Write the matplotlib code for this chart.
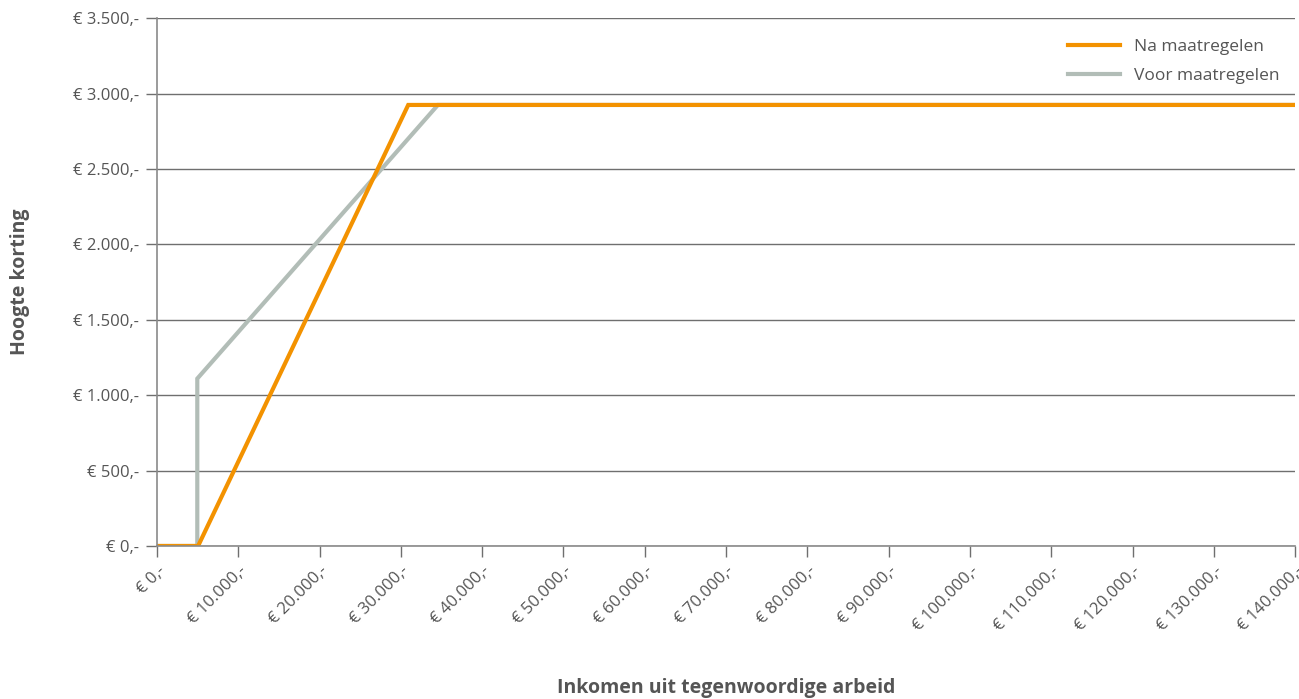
import matplotlib
matplotlib.use("Agg")
import matplotlib.pyplot as plt
from matplotlib.ticker import FuncFormatter

plt.rcParams["font.family"] = ["Open Sans", "DejaVu Sans"]

# inkomen (euro) en hoogte korting (euro)
na_x = [0, 5050, 30900, 140000]
na_y = [0, 0, 2925, 2925]

voor_x = [0, 4950, 4950, 34550, 140000]
voor_y = [0, 0, 1110, 2925, 2925]

x_ticks = list(range(0, 140001, 10000))
y_ticks = list(range(0, 3501, 500))


def euro(v, pos=None):
    s = "{:,.0f}".format(v).replace(",", ".")
    return "€ " + s + ",-"


fig = plt.figure(figsize=(12.99, 6.99), dpi=100)
ax = fig.add_axes([0.1209, 0.2189, 0.8761, 0.755])

ax.plot(voor_x, voor_y, color="#b2bdb7", linewidth=3, label="Voor maatregelen",
        solid_joinstyle="miter")
ax.plot(na_x, na_y, color="#f39200", linewidth=3, label="Na maatregelen",
        solid_joinstyle="miter")

ax.set_xlim(0, 140000)
ax.set_ylim(0, 3500)
ax.set_xticks(x_ticks)
ax.set_yticks(y_ticks)
ax.xaxis.set_major_formatter(FuncFormatter(euro))
ax.yaxis.set_major_formatter(FuncFormatter(euro))

ax.grid(axis="y", color="#6f6f6f", linewidth=1)
ax.set_axisbelow(True)
for s in ["top", "right"]:
    ax.spines[s].set_visible(False)
for s in ["left", "bottom"]:
    ax.spines[s].set_color("#8a8a8a")
    ax.spines[s].set_linewidth(1.2)

ax.tick_params(axis="both", colors="#6f6f6f", labelcolor="#555555",
               labelsize=12, length=8, width=1)
ax.tick_params(axis="y", pad=5)
ax.tick_params(axis="x", pad=4)
for lbl in ax.get_xticklabels():
    lbl.set_rotation(45)
    lbl.set_ha("right")
    lbl.set_rotation_mode("anchor")

ax.set_xlabel("Inkomen uit tegenwoordige arbeid", fontsize=14, fontweight="bold",
              color="#555555")
ax.xaxis.set_label_coords(0.5, -0.27)
ax.xaxis.label.set_va("center")
ax.set_ylabel("Hoogte korting", fontsize=14, fontweight="bold",
              color="#555555")
ax.yaxis.set_label_coords(-0.12, 0.5)
ax.yaxis.label.set_va("center")

handles, labels = ax.get_legend_handles_labels()
leg = ax.legend(handles[::-1], labels[::-1], loc="upper right", frameon=False,
                fontsize=12.5, handlelength=3, handletextpad=0.8,
                bbox_to_anchor=(1.0, 0.99), labelspacing=0.75)
for t in leg.get_texts():
    t.set_color("#555555")

fig.savefig("out.png", dpi=100)
